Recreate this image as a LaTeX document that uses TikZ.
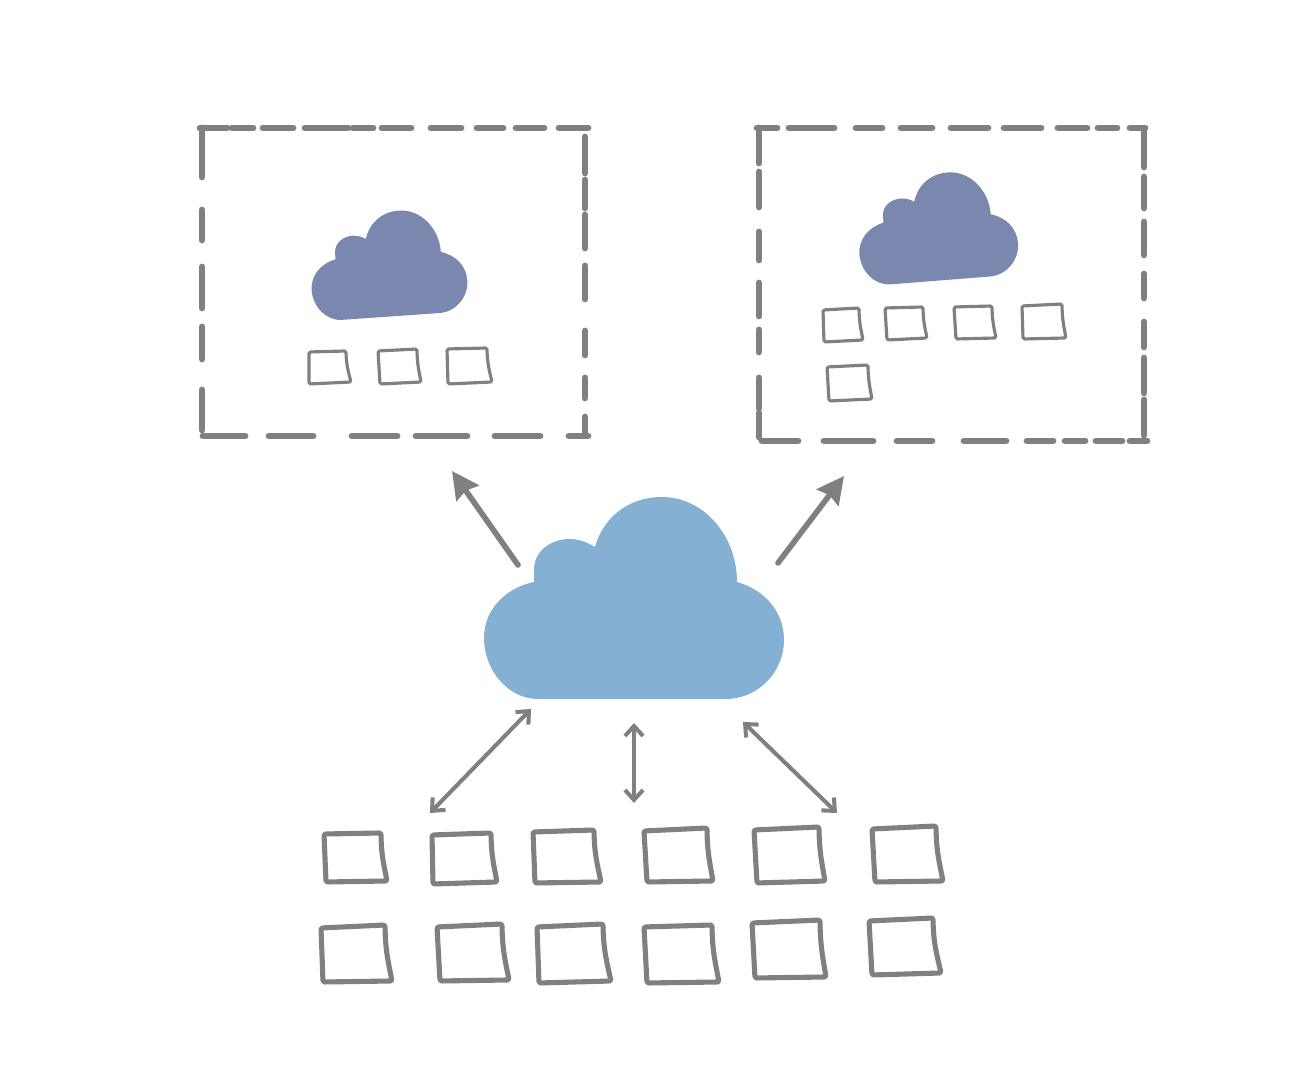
\documentclass[tikz,border=0pt]{standalone}
\usetikzlibrary{arrows.meta}
\definecolor{cloudblue}{HTML}{84B0D4}
\definecolor{clouddark}{HTML}{7A87AE}
\definecolor{sketchgray}{HTML}{808080}
\newcommand{\cloudpath}{(538,699) -- (726,699)
  .. controls (758,699) and (784,672) .. (784,640)
  .. controls (784,612) and (765,590) .. (737,582)
  .. controls (737,535) and (703,497) .. (662,497)
  .. controls (628,497) and (603,518) .. (595,547)
  .. controls (588,543) and (580,539) .. (570,539)
  .. controls (552,539) and (534,550) .. (534,570) -- (534,582)
  .. controls (505,588) and (484,610) .. (484,638)
  .. controls (484,670) and (508,699) .. (538,699) -- cycle}
\newcommand{\cellpath}[8]{(#1,#2) -- (#3,#4)
  .. controls ({#3+.05*(#5-#3)},{#4+.45*(#6-#4)}) and ({#3+.45*(#5-#3)},{#4+.65*(#6-#4)}) .. (#5,#6)
  -- (#7,#8) -- cycle}
\tikzset{
  cellbig/.style={draw=sketchgray,line width=1.45pt,rounded corners=.02cm},
  cellsmall/.style={draw=sketchgray,line width=.9pt,rounded corners=.015cm},
  dashline/.style={draw=sketchgray,line width=1.95pt},
  uplink/.style={draw=sketchgray,line width=1.6pt,-{Stealth[inset=.03cm,length=.27cm,width=.27cm]}},
  duplex/.style={draw=sketchgray,line width=1.15pt,
    {Straight Barb[length=.1cm,width=.18cm]}-{Straight Barb[length=.1cm,width=.18cm]}},
  every picture/.style={line cap=round,line join=round}}
\begin{document}
\begin{tikzpicture}[x=.01cm,y=-.01cm]
  \useasboundingbox (0,0) rectangle (1302,1080);
  % clouds
  \fill[cloudblue] \cloudpath;
  \begin{scope}[shift={(388,264)},rotate=4,scale=.52,shift={(-634,-598)}]
    \fill[clouddark] \cloudpath;
  \end{scope}
  \begin{scope}[shift={(937,227)},rotate=4.5,scale=.53,shift={(-634,-598)}]
    \fill[clouddark] \cloudpath;
  \end{scope}
  % left frame
  \foreach \xa/\xb in {200/227,232/253,263/293,305/348,353/373,382/411,431/461,477/503,516/544,559/588}
    \draw[dashline] (\xa,128) -- (\xb,128);
  \foreach \xa/\xb in {203/245,269/313,352/397,416/467,495/540,569/588}
    \draw[dashline] (\xa,436) -- (\xb,436);
  \foreach \ya/\yb in {128/177,210/240,267/308,327/359,390/430}
    \draw[dashline] (202,\ya) -- (202,\yb);
  \foreach \ya/\yb in {137/173,180/208,215/248,266/299,331/355,378/398,417/433}
    \draw[dashline] (585,\ya) -- (585,\yb);
  % right frame
  \foreach \xa/\xb in {757/777,789/834,856/882,901/932,951/988,1004/1041,1058/1087,1098/1117,1130/1145}
    \draw[dashline] (\xa,128) -- (\xb,128);
  \foreach \xa/\xb in {762/798,824/873,897/932,964/1006,1027/1053,1065/1085,1096/1122,1130/1147}
    \draw[dashline] (\xa,441) -- (\xb,441);
  \foreach \ya/\yb in {128/163,172/207,232/260,283/316,330/352,378/408,413/437}
    \draw[dashline] (759,\ya) -- (759,\yb);
  \foreach \ya/\yb in {130/167,177/208,222/255,274/298,322/347,358/393,400/435}
    \draw[dashline] (1144,\ya) -- (1144,\yb);
  % cells under the hub
  \foreach \ax/\ay/\bx/\by/\cx/\cy/\dx/\dy in {
    324/834/381/833/387/881/326/882,
    432/835/491/833/497/882/433/884,
    533/832/594/830/601/882/535/883,
    644/831/707/828/713/881/647/882,
    754/830/819/827/825/881/757/883,
    872/829/936/826/943/881/875/882,
    321/928/385/925/392/981/323/982,
    437/927/502/924/509/980/440/981,
    537/927/603/924/611/981/539/983,
    644/927/712/925/719/982/647/983,
    752/923/820/920/826/977/755/978,
    869/921/933/918/941/973/872/975}
    \draw[cellbig] \cellpath{\ax}{\ay}{\bx}{\by}{\cx}{\cy}{\dx}{\dy};
  % cells inside the frames
  \foreach \ax/\ay/\bx/\by/\cx/\cy/\dx/\dy in {
    309/352/346/351/351/382/309/384,
    378/351/417/349/421/382/380/384,
    447/349/487/348/492/382/448/384,
    823/310/859/308/863/340/824/342,
    885/308/923/307/927/338/887/340,
    954/307/992/306/996/338/956/339,
    1022/306/1062/304/1066/338/1023/339,
    827/367/868/365/872/399/829/401}
    \draw[cellsmall] \cellpath{\ax}{\ay}{\bx}{\by}{\cx}{\cy}{\dx}{\dy};
  % connectors
  \coordinate (hubnw) at (518,565);\coordinate (leftframe) at (452,471);
  \coordinate (hubne) at (778,563);\coordinate (rightframe) at (844,476);
  \coordinate (hubsw) at (531,709);\coordinate (cellsw) at (430,813);
  \coordinate (hubs) at (634,723);\coordinate (cells) at (634,803);
  \coordinate (hubse) at (743,722);\coordinate (cellse) at (837,813);
  \draw[uplink] (hubnw) -- (leftframe);
  \draw[uplink] (hubne) -- (rightframe);
  \draw[duplex] (hubsw) -- (cellsw);
  \draw[duplex] (hubs) -- (cells);
  \draw[duplex] (hubse) -- (cellse);
\end{tikzpicture}
\end{document}
